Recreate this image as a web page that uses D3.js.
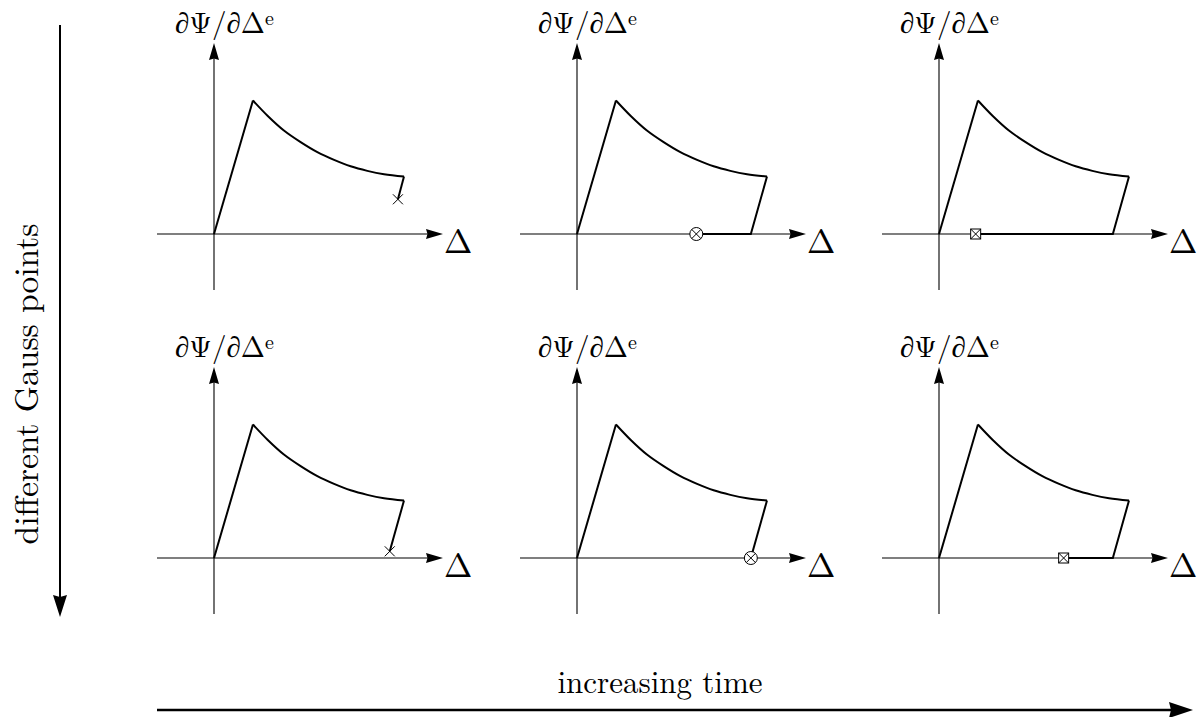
<!DOCTYPE html>
<html>
<head>
<meta charset="utf-8">
<script src="https://cdn.jsdelivr.net/npm/d3@7"></script>
<style>
  html, body { margin: 0; padding: 0; background: #fff; }
  svg { display: block; }
</style>
</head>
<body>
<svg id="fig"></svg>
<script>
// ---- data -------------------------------------------------------------
// Traction–separation law: normalised opening Δ vs. ∂Ψ/∂Δ^e
const loadingBranch = [[0, 0], [0.205, 1.0]];
const softeningBranch = [
  [0.205, 1.0], [0.283, 0.884], [0.368, 0.775], [0.456, 0.688], [0.544, 0.613],
  [0.632, 0.555], [0.719, 0.507], [0.807, 0.473], [0.895, 0.448], [1.0, 0.431]
];
// Unloading history after the last softening point, for each Gauss point (row)
// and each time step (column); the last point is the current state.
const unloadingPaths = [
  [
    [[1.0, 0.431], [0.968, 0.26]],
    [[1.0, 0.431], [0.915, 0], [0.628, 0]],
    [[1.0, 0.431], [0.915, 0], [0.193, 0]]
  ],
  [
    [[1.0, 0.431], [0.925, 0.05]],
    [[1.0, 0.431], [0.915, 0]],
    [[1.0, 0.431], [0.915, 0], [0.656, 0]]
  ]
];
const stateMarkers = ["cross", "circle", "box"];   // one symbol per time step
const yAxisLabel = "∂Ψ/∂Δ";
const yAxisLabelSup = "e";
const xAxisLabel = "Δ";
const rowCaption = "different Gauss points";
const colCaption = "increasing time";

// ---- layout -----------------------------------------------------------
const W = 1197, H = 717;
const colOrigins = [214, 577, 939];
const rowOrigins = [234, 558];
const unitX = 190, unitY = 133.5;
const FONT = "Latin Modern Roman";

const svg = d3.select("#fig").attr("width", W).attr("height", H)
  .attr("viewBox", `0 0 ${W} ${H}`);

// filled arrow head with a slight notch, tip at (x,y), pointing along angle a
function arrowHead(g, x, y, a, len, half, notch) {
  const c = Math.cos(a), s = Math.sin(a);
  const p = (u, v) => [x + u * c - v * s, y + u * s + v * c];
  const pts = [p(0, 0), p(-len, -half), p(-len + notch, 0), p(-len, half)];
  g.append("path").attr("d", "M" + pts.map(d => d.join(",")).join("L") + "Z")
    .attr("fill", "#000").attr("stroke", "none");
}

function label(g) {
  return g.append("text").attr("font-family", FONT).attr("fill", "#000");
}

const line = d3.line();
const curved = d3.line().curve(d3.curveCatmullRom.alpha(0.5));

rowOrigins.forEach((oy, r) => {
  colOrigins.forEach((ox, c) => {
    const g = svg.append("g");
    const x = d3.scaleLinear().domain([0, 1]).range([ox, ox + unitX]);
    const y = d3.scaleLinear().domain([0, 1]).range([oy, oy - unitY]);
    line.x(d => x(d[0])).y(d => y(d[1]));
    curved.x(d => x(d[0])).y(d => y(d[1]));

    // axes
    const xEnd = ox + 229, yEnd = oy - 191;
    g.append("line").attr("x1", ox - 57).attr("x2", xEnd - 8)
      .attr("y1", oy).attr("y2", oy).attr("stroke", "#000").attr("stroke-width", 1.1);
    g.append("line").attr("x1", ox).attr("x2", ox)
      .attr("y1", oy + 56).attr("y2", yEnd + 8).attr("stroke", "#000").attr("stroke-width", 1.1);
    arrowHead(g, xEnd, oy, 0, 17, 5, 1.5);
    arrowHead(g, ox, yEnd, -Math.PI / 2, 17, 5, 1.5);

    // axis labels
    const yl = label(g).attr("x", ox - 39).attr("y", oy - 201).attr("font-size", 29);
    yl.append("tspan").text(yAxisLabel);
    yl.append("tspan").attr("dy", -8).attr("font-size", 20).text(yAxisLabelSup);
    label(g).attr("x", ox + 230).attr("y", oy + 19)
      .attr("font-size", 34).text(xAxisLabel);

    // response path
    const addPath = (d, gen) => g.append("path").attr("d", gen(d))
      .attr("fill", "none").attr("stroke", "#000").attr("stroke-width", 2)
      .attr("stroke-linejoin", "miter");
    addPath(loadingBranch, line);
    addPath(softeningBranch, curved);
    const hist = unloadingPaths[r][c];
    addPath(hist, line);

    // current state marker
    const cur = hist[hist.length - 1];
    const cx = x(cur[0]), cy = y(cur[1]);
    const m = g.append("g").attr("transform", `translate(${cx},${cy})`)
      .attr("stroke", "#000").attr("stroke-width", 1).attr("fill", "#fff");
    const kind = stateMarkers[c];
    if (kind === "cross") {
      m.append("path").attr("d", "M-5,-5L5,5M-5,5L5,-5");
    } else if (kind === "circle") {
      m.append("circle").attr("r", 6.5);
      m.append("path").attr("d", "M-4.6,-4.6L4.6,4.6M-4.6,4.6L4.6,-4.6");
    } else {
      m.append("rect").attr("x", -5).attr("y", -5).attr("width", 10).attr("height", 10);
      m.append("path").attr("d", "M-5,-5L5,5M-5,5L5,-5");
    }
  });
});

// ---- outer captions ---------------------------------------------------
// vertical arrow: Gauss points
svg.append("line").attr("x1", 60).attr("x2", 60).attr("y1", 25).attr("y2", 600)
  .attr("stroke", "#000").attr("stroke-width", 2);
arrowHead(svg, 60, 617, Math.PI / 2, 22, 7, 2);
label(svg)
  .attr("transform", "translate(38,384) rotate(-90)")
  .attr("text-anchor", "middle").attr("font-size", 33.5).text(rowCaption);

// horizontal arrow: time
svg.append("line").attr("x1", 157).attr("x2", 1175).attr("y1", 710).attr("y2", 710)
  .attr("stroke", "#000").attr("stroke-width", 2.6);
arrowHead(svg, 1193, 710, 0, 24, 8, 2);
label(svg).attr("x", 660).attr("y", 693)
  .attr("text-anchor", "middle").attr("font-size", 31).text(colCaption);
</script>
</body>
</html>
